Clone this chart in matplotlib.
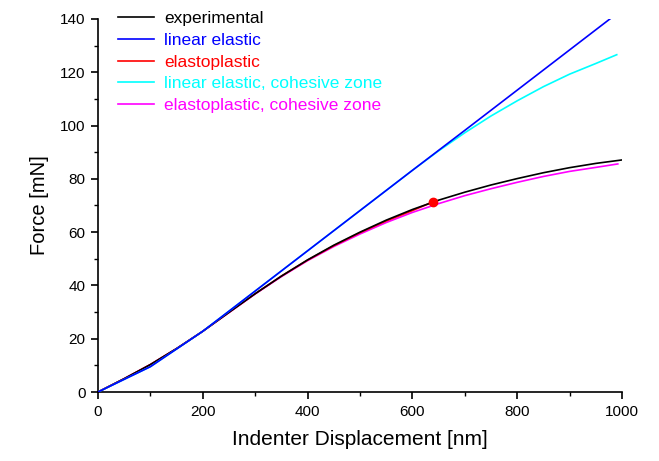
import matplotlib
matplotlib.use("Agg")
import matplotlib.pyplot as plt
from matplotlib.ticker import MultipleLocator

plt.rcParams['font.family'] = ['Liberation Sans', 'DejaVu Sans']

# experimental
exp_x = [0, 50, 100, 150, 200, 250, 300, 350, 400, 450, 500, 550, 600, 650, 700, 750, 800, 850, 900, 950, 1000]
exp_y = [0, 5.0, 10.3, 16.3, 22.8, 29.9, 36.9, 43.5, 49.6, 55.1, 60.0, 64.5, 68.5, 72.0, 75.0, 77.7, 80.1, 82.3, 84.2, 85.8, 87.1]

# linear elastic
le_x = [0, 100, 200, 300, 400, 500, 600, 700, 800, 900, 1000]
le_y = [0, 9.5, 22.8, 37.9, 53.0, 68.1, 83.2, 98.2, 113.3, 128.4, 143.5]

# elastoplastic (ends at marker)
ep_x = [0, 50, 100, 150, 200, 250, 300, 350, 400, 450, 500, 550, 600, 640]
ep_y = [0, 5.0, 10.3, 16.3, 22.8, 29.9, 36.9, 43.5, 49.5, 54.9, 59.8, 64.2, 68.1, 71.4]

# linear elastic, cohesive zone
lec_x = [0, 100, 200, 300, 400, 500, 600, 650, 700, 750, 800, 850, 900, 950, 990]
lec_y = [0, 9.5, 22.8, 37.9, 53.0, 68.1, 83.2, 90.5, 97.3, 103.6, 109.3, 114.6, 119.3, 123.3, 126.6]

# elastoplastic, cohesive zone
epc_x = [0, 50, 100, 150, 200, 250, 300, 350, 400, 450, 500, 550, 600, 650, 700, 750, 800, 850, 900, 950, 992]
epc_y = [0, 5.0, 10.3, 16.3, 22.8, 29.8, 36.8, 43.3, 49.3, 54.6, 59.3, 63.6, 67.4, 70.7, 73.7, 76.3, 78.7, 80.9, 82.8, 84.3, 85.6]

fig = plt.figure(figsize=(6.59, 4.61), dpi=100)
ax = fig.add_axes([98/659, 1-392/461, (622-98)/659, (392-19)/461])

lw = 1.2
ax.plot(epc_x, epc_y, color='#ff00ff', lw=lw, label='elastoplastic, cohesive zone', zorder=2)
ax.plot(ep_x, ep_y, color='#ff0000', lw=lw, label='elastoplastic', zorder=3)
ax.plot(exp_x, exp_y, color='black', lw=lw, label='experimental', zorder=4)
ax.plot(lec_x, lec_y, color='#00ffff', lw=lw, label='linear elastic, cohesive zone', zorder=5)
ax.plot(le_x, le_y, color='#0000ff', lw=lw, label='linear elastic', zorder=6)
ax.plot([ep_x[-1]], [ep_y[-1]], 'o', color='#ff0000', ms=6, zorder=7)

ax.set_xlim(0, 1000)
ax.set_ylim(0, 140)
ax.xaxis.set_major_locator(MultipleLocator(200))
ax.xaxis.set_minor_locator(MultipleLocator(100))
ax.yaxis.set_major_locator(MultipleLocator(20))
ax.yaxis.set_minor_locator(MultipleLocator(10))
ax.spines['top'].set_visible(False)
ax.spines['right'].set_visible(False)
for s in ['left', 'bottom']:
    ax.spines[s].set_linewidth(1.2)
ax.tick_params(which='major', direction='out', length=5, width=1.2, labelsize=11, pad=4)
ax.tick_params(which='minor', direction='out', length=3, width=1.0)

ax.set_xlabel('Indenter Displacement [nm]', fontsize=15, labelpad=8)
ax.set_ylabel('Force [mN]', fontsize=14.5, labelpad=8)

handles, labels = ax.get_legend_handles_labels()
order = ['experimental', 'linear elastic', 'elastoplastic',
         'linear elastic, cohesive zone', 'elastoplastic, cohesive zone']
hmap = dict(zip(labels, handles))
leg = ax.legend([hmap[o] for o in order], order, loc='upper left',
                bbox_to_anchor=(118/659, 1-11/461), bbox_transform=fig.transFigure,
                frameon=False, fontsize=12.5, handlelength=2.1, handletextpad=0.55,
                labelspacing=0.38, borderaxespad=0, borderpad=0)
for t, h in zip(leg.get_texts(), leg.legend_handles):
    t.set_color(h.get_color())

fig.savefig('out.png', dpi=100)
